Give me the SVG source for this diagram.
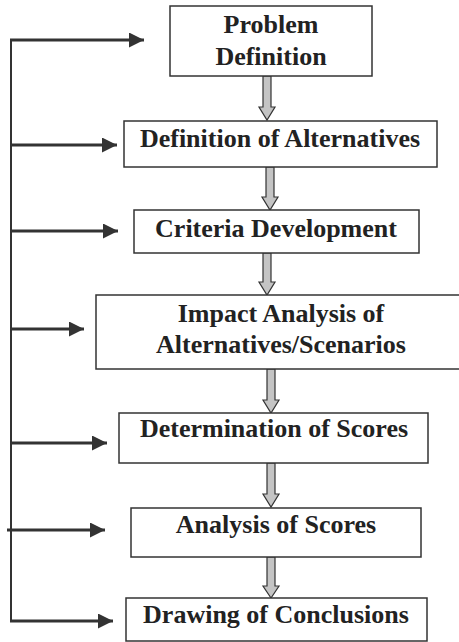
<svg xmlns="http://www.w3.org/2000/svg" width="459" height="642" viewBox="0 0 459 642">
<defs>
<style>
.box{fill:#fff;stroke:#333;stroke-width:1.5}
.lbl{font-weight:bold;font-size:26px;fill:#222;text-anchor:middle}
.flow{fill:#c4c4c4;stroke:#333;stroke-width:1.2;stroke-linejoin:miter}
.fb{fill:none;stroke:#333;stroke-width:3}
.spine{fill:none;stroke:#333;stroke-width:2}
</style>
<marker id="ah" markerWidth="15" markerHeight="15" refX="15" refY="7.5" orient="auto" markerUnits="userSpaceOnUse">
<path d="M0,0 L15,7.5 L0,15 Z" fill="#333"/>
</marker>
</defs>
<rect width="459" height="642" fill="#fff"/>
<g id="connectors">
<line class="spine" x1="11" y1="39" x2="11" y2="622"/>
<line class="fb" x1="10" y1="40" x2="144" y2="40" marker-end="url(#ah)"/>
<line class="fb" x1="10" y1="145" x2="117" y2="145" marker-end="url(#ah)"/>
<line class="fb" x1="10" y1="231" x2="118" y2="231" marker-end="url(#ah)"/>
<line class="fb" x1="10" y1="329" x2="84" y2="329" marker-end="url(#ah)"/>
<line class="fb" x1="10" y1="443" x2="107" y2="443" marker-end="url(#ah)"/>
<line class="fb" x1="7" y1="530" x2="105" y2="530" marker-end="url(#ah)"/>
<line class="fb" x1="10" y1="621" x2="113" y2="621" marker-end="url(#ah)"/>
<path class="flow" d="M263,76 H271 V107 H275 L267,120 L259,107 H263 Z"/>
<path class="flow" d="M266,167 H274 V197 H278 L270,210 L262,197 H266 Z"/>
<path class="flow" d="M263,253 H271 V282 H275 L267,295 L259,282 H263 Z"/>
<path class="flow" d="M267,369 H275 V400 H279 L271,413 L263,400 H267 Z"/>
<path class="flow" d="M267,463 H275 V494 H279 L271,507 L263,494 H267 Z"/>
<path class="flow" d="M267,557 H275 V586 H279 L271,598 L263,586 H267 Z"/>
</g>
<g font-family="Liberation Serif, Times New Roman, serif">
<g id="n1"><rect class="box" x="170" y="6" width="202" height="70"/><text class="lbl" x="271" y="33">Problem</text><text class="lbl" x="271" y="65">Definition</text></g>
<g id="n2"><rect class="box" x="124" y="121" width="313" height="46"/><text class="lbl" x="280" y="147">Definition of Alternatives</text></g>
<g id="n3"><rect class="box" x="134" y="210" width="285" height="43"/><text class="lbl" x="276" y="237">Criteria Development</text></g>
<g id="n4"><rect class="box" x="96" y="295" width="366" height="74"/><text class="lbl" x="281" y="322">Impact Analysis of</text><text class="lbl" x="281" y="353">Alternatives/Scenarios</text></g>
<g id="n5"><rect class="box" x="119" y="413" width="309" height="50"/><text class="lbl" x="274" y="437">Determination of Scores</text></g>
<g id="n6"><rect class="box" x="131" y="508" width="290" height="49"/><text class="lbl" x="276" y="533">Analysis of Scores</text></g>
<g id="n7"><rect class="box" x="126" y="598" width="301" height="43"/><text class="lbl" x="276" y="623">Drawing of Conclusions</text></g>
</g>
</svg>
